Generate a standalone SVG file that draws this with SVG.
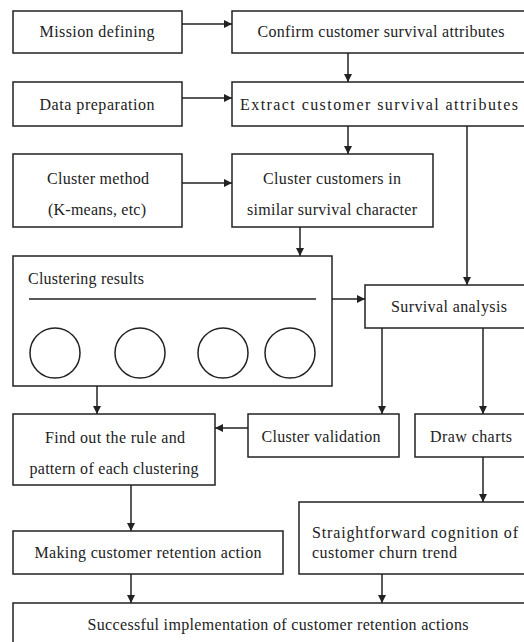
<svg xmlns="http://www.w3.org/2000/svg" width="524" height="642" viewBox="0 0 524 642">
<defs>
<style>
.box{fill:#fff;stroke:#222;stroke-width:1.5}
text{font-family:'Liberation Serif','Times New Roman','DejaVu Serif',serif;font-size:16px;fill:#222}
.c{text-anchor:middle}
.ln{stroke:#222;stroke-width:1.5;fill:none}
.edge{stroke:#222;stroke-width:1.5;fill:none;marker-end:url(#ah)}
</style>
<marker id="ah" viewBox="0 0 10 10" refX="10" refY="5" markerWidth="8" markerHeight="8" markerUnits="userSpaceOnUse" orient="auto">
<path d="M0,0 L10,5 L0,10 z" fill="#222"/>
</marker>
</defs>
<rect width="524" height="642" fill="#fff"/>
<g id="mission"><rect class="box" x="13" y="11" width="169" height="42"/><text class="c" x="97" y="37" textLength="115">Mission defining</text></g>
<g id="confirm"><rect class="box" x="232" y="11" width="300" height="42"/><text class="c" x="381" y="37" textLength="247">Confirm customer survival attributes</text></g>
<g id="dataprep"><rect class="box" x="13" y="82" width="169" height="44"/><text class="c" x="97" y="110" textLength="115">Data preparation</text></g>
<g id="extract"><rect class="box" x="232" y="82" width="300" height="44"/><text x="240" y="110" textLength="278">Extract customer survival attributes</text></g>
<g id="clustermethod"><rect class="box" x="13" y="154" width="169" height="73"/><text class="c" x="98" y="184" textLength="102">Cluster method</text><text class="c" x="97" y="215" textLength="98">(K-means, etc)</text></g>
<g id="clustercustomers"><rect class="box" x="232" y="154" width="201" height="73"/><text class="c" x="332" y="184" textLength="138">Cluster customers in</text><text class="c" x="332" y="215" textLength="170">similar survival character</text></g>
<g id="clusteringresults"><rect class="box" x="13" y="256" width="319" height="130"/><text x="28" y="284" textLength="116">Clustering results</text><line class="ln" x1="29" y1="299" x2="316" y2="299"/>
<circle class="ln" cx="55" cy="353" r="25"/><circle class="ln" cx="140" cy="353" r="25"/><circle class="ln" cx="223" cy="353" r="25"/><circle class="ln" cx="290" cy="353" r="25"/></g>
<g id="survival"><rect class="box" x="365" y="285" width="167" height="43"/><text class="c" x="449" y="312" textLength="116">Survival analysis</text></g>
<g id="findout"><rect class="box" x="13" y="414" width="202" height="71"/><text class="c" x="115" y="443" textLength="140">Find out the rule and</text><text class="c" x="114" y="474" textLength="169">pattern of each clustering</text></g>
<g id="validation"><rect class="box" x="248" y="414" width="151" height="43"/><text class="c" x="321" y="442" textLength="119">Cluster validation</text></g>
<g id="drawcharts"><rect class="box" x="415" y="414" width="117" height="43"/><text class="c" x="471" y="442" textLength="82">Draw charts</text></g>
<g id="making"><rect class="box" x="13" y="531" width="270" height="43"/><text class="c" x="148" y="558" textLength="227">Making customer retention action</text></g>
<g id="straightforward"><rect class="box" x="299" y="502" width="233" height="72"/><text x="312" y="538" textLength="206">Straightforward cognition of</text><text x="312" y="558" textLength="145">customer churn trend</text></g>
<g id="successful"><rect class="box" x="13" y="603" width="519" height="50"/><text class="c" x="278" y="630" textLength="381">Successful implementation of customer retention actions</text></g>
<g id="connectors">
<line class="edge" x1="182" y1="24" x2="232" y2="24"/>
<line class="edge" x1="348" y1="53" x2="348" y2="82"/>
<line class="edge" x1="182" y1="98" x2="232" y2="98"/>
<line class="edge" x1="348" y1="126" x2="348" y2="154"/>
<line class="edge" x1="467" y1="126" x2="467" y2="285"/>
<line class="edge" x1="182" y1="183" x2="232" y2="183"/>
<line class="edge" x1="300" y1="227" x2="300" y2="256"/>
<line class="edge" x1="332" y1="299" x2="365" y2="299"/>
<line class="edge" x1="382" y1="328" x2="382" y2="414"/>
<line class="edge" x1="483" y1="328" x2="483" y2="414"/>
<line class="edge" x1="97" y1="386" x2="97" y2="414"/>
<line class="edge" x1="248" y1="428" x2="215" y2="428"/>
<line class="edge" x1="131" y1="485" x2="131" y2="531"/>
<line class="edge" x1="483" y1="457" x2="483" y2="502"/>
<line class="edge" x1="131" y1="574" x2="131" y2="603"/>
<line class="edge" x1="382" y1="574" x2="382" y2="603"/>
</g>
</svg>
